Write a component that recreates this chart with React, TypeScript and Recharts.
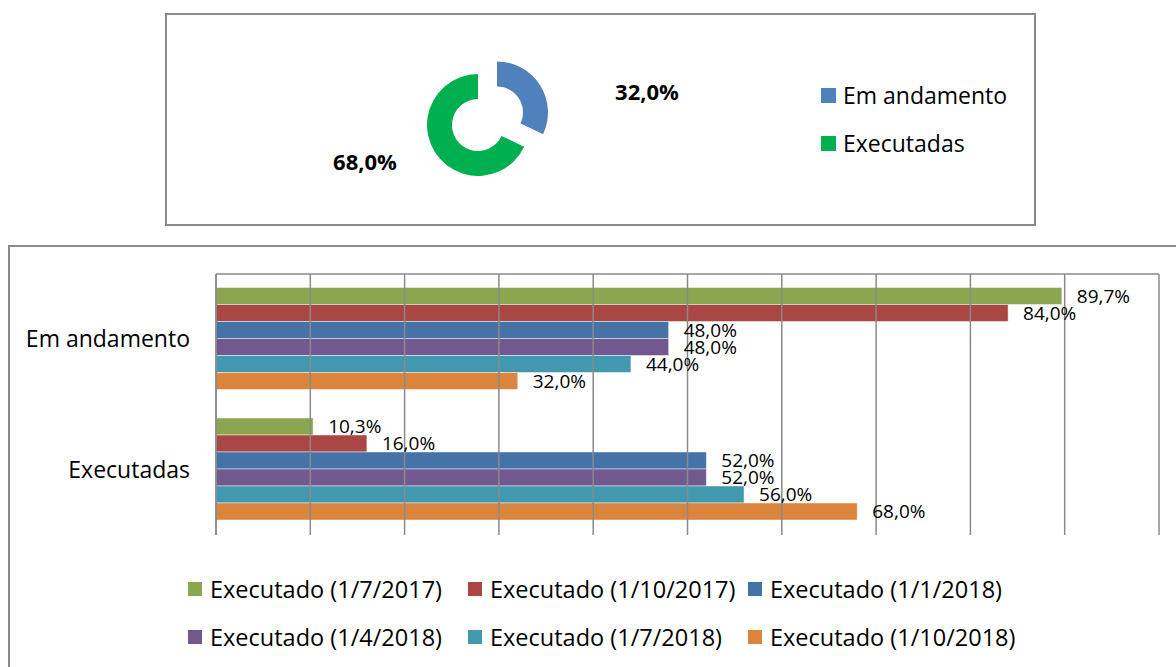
import { BarChart, Bar, XAxis, YAxis, ReferenceLine, LabelList, PieChart, Pie, Cell } from "recharts";

// Status categories (shared by both charts)
const categories = ["Em andamento", "Executadas"];

// Donut: current split
const donutValues = [32.0, 68.0];
const donutColors = ["#4F81BD", "#00B050"];

// Bars: one series per snapshot date
const seriesNames = [
    "Executado (1/7/2017)",
    "Executado (1/10/2017)",
    "Executado (1/1/2018)",
    "Executado (1/4/2018)",
    "Executado (1/7/2018)",
    "Executado (1/10/2018)",
];
const s1 = [89.7, 10.3];
const s2 = [84.0, 16.0];
const s3 = [48.0, 52.0];
const s4 = [48.0, 52.0];
const s5 = [44.0, 56.0];
const s6 = [32.0, 68.0];
const seriesValues = [s1, s2, s3, s4, s5, s6];
const seriesColors = ["#8AA64E", "#AA4644", "#4572A7", "#71588F", "#4198AF", "#DB843D"];

const xTicks = [0, 10, 20, 30, 40, 50, 60, 70, 80, 90, 100];

const FONT = "'Open Sans', sans-serif";
const GRID = "#8a8a8a";

const pct = (v: number) => `${v.toFixed(1).replace(".", ",")}%`;

const donutData = categories.map((name, i) => ({ name, value: donutValues[i] }));

const barData = categories.map((name, i) => {
    const row: Record<string, string | number> = { name };
    seriesValues.forEach((vals, k) => {
        row[`s${k}`] = vals[i];
    });
    return row;
});

// where Excel put the two donut labels, relative to each slice centre
const LABEL_OFFSETS = [
    { dx: 150, dy: -22 },
    { dx: -113, dy: 36 },
];

function donutLabel(show: number) {
    return (props: any) => {
        const { cx, cy, index } = props;
        if (index !== show) return null;
        const o = LABEL_OFFSETS[index];
        return (
            <text
                x={cx + o.dx}
                y={cy + o.dy}
                textAnchor="middle"
                dominantBaseline="central"
                fontFamily={FONT}
                fontWeight={700}
                fontSize={22}
                fill="#000"
            >
                {pct(donutValues[index])}
            </text>
        );
    };
}

const box = (left: number, top: number, width: number, height: number): React.CSSProperties => ({
    position: "absolute",
    left,
    top,
    width,
    height,
    border: `2px solid ${GRID}`,
    boxSizing: "border-box",
    background: "#fff",
});

export default function App() {
    return (
        <div style={{ position: "absolute", left: 0, top: 0, width: 1176, height: 667, overflow: "hidden", background: "#fff", fontFamily: FONT }}>
            <div style={box(165, 13, 871, 213)} />
            <div style={box(8, 245, 1200, 440)} />

            {/* donut, blue slice pulled out */}
            <div style={{ position: "absolute", left: 0, top: 0 }}>
                <PieChart width={1176} height={240} margin={{ top: 0, right: 0, bottom: 0, left: 0 }}>
                    <Pie
                        data={donutData}
                        dataKey="value"
                        cx={478}
                        cy={125}
                        innerRadius={26}
                        outerRadius={51}
                        startAngle={90}
                        endAngle={-270}
                        stroke="none"
                        labelLine={false}
                        label={donutLabel(1)}
                        isAnimationActive={false}
                    >
                        {donutData.map((d, i) => (
                            <Cell key={d.name} fill={i === 1 ? donutColors[i] : "transparent"} />
                        ))}
                    </Pie>
                    <Pie
                        data={donutData}
                        dataKey="value"
                        cx={497}
                        cy={112.5}
                        innerRadius={26}
                        outerRadius={51}
                        startAngle={90}
                        endAngle={-270}
                        stroke="none"
                        labelLine={false}
                        label={donutLabel(0)}
                        isAnimationActive={false}
                    >
                        {donutData.map((d, i) => (
                            <Cell key={d.name} fill={i === 0 ? donutColors[i] : "transparent"} />
                        ))}
                    </Pie>
                </PieChart>
            </div>

            {/* donut legend */}
            <div style={{ position: "absolute", left: 821, top: 71 }}>
                {categories.map((c, i) => (
                    <div key={c} style={{ display: "flex", alignItems: "center", height: 48 }}>
                        <span style={{ width: 15, height: 15, background: donutColors[i], marginRight: 7 }} />
                        <span style={{ fontSize: 23, color: "#000" }}>{c}</span>
                    </div>
                ))}
            </div>

            {/* bars */}
            <div style={{ position: "absolute", left: 0, top: 245 }}>
                <BarChart
                    width={1176}
                    height={422}
                    data={barData}
                    layout="vertical"
                    margin={{ top: 28, right: 17, bottom: 132, left: 0 }}
                    barCategoryGap={13.5}
                    barGap={0}
                >
                    <XAxis
                        type="number"
                        orientation="top"
                        domain={[0, 100]}
                        ticks={xTicks}
                        height={1}
                        tick={false}
                        tickLine={false}
                        axisLine={{ stroke: GRID, strokeWidth: 1.5 }}
                    />
                    <YAxis
                        type="category"
                        dataKey="name"
                        width={216}
                        tickSize={0}
                        tickMargin={26}
                        tickLine={false}
                        axisLine={{ stroke: GRID, strokeWidth: 1.5 }}
                        tick={{ fontSize: 23, fill: "#000", fontFamily: FONT }}
                    />
                    {xTicks.map((t) => (
                        <ReferenceLine key={t} x={t} stroke={GRID} strokeWidth={1.5} ifOverflow="visible" />
                    ))}
                    {seriesNames.map((n, k) => (
                        <Bar
                            key={n}
                            dataKey={`s${k}`}
                            name={n}
                            fill={seriesColors[k]}
                            stroke="rgba(255,255,255,0.45)"
                            strokeWidth={1}
                            isAnimationActive={false}
                        >
                            <LabelList
                                dataKey={`s${k}`}
                                position="right"
                                offset={15}
                                formatter={(v: any) => pct(Number(v))}
                                style={{ fontSize: 19, fill: "#000", fontFamily: FONT }}
                            />
                        </Bar>
                    ))}
                </BarChart>
            </div>

            {/* bar legend, 3 per row */}
            <div
                style={{
                    position: "absolute",
                    left: 188,
                    top: 565,
                    display: "grid",
                    gridTemplateColumns: "280px 280px 280px",
                }}
            >
                {seriesNames.map((n, k) => (
                    <div key={n} style={{ display: "flex", alignItems: "center", height: 48 }}>
                        <span style={{ width: 14, height: 14, background: seriesColors[k], marginRight: 8 }} />
                        <span style={{ fontSize: 23.5, color: "#000", whiteSpace: "nowrap" }}>{n}</span>
                    </div>
                ))}
            </div>
        </div>
    );
}
